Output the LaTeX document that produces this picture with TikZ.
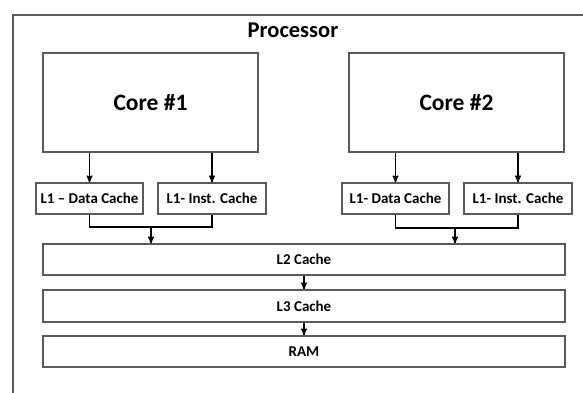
\documentclass[tikz,border=0pt]{standalone}
\usepackage{fontspec}
\setmainfont{Carlito}
\usetikzlibrary{shapes,arrows,backgrounds,positioning}
\definecolor{boxgray}{RGB}{90,90,90}
\tikzset{
  blocknode/.style = {align=center, inner sep=0pt, text centered,
    font=\bfseries, draw=boxgray, line width=1.3pt, fill=white},
  core_box/.style = {blocknode, minimum width=215pt, minimum height=99pt,
    font=\bfseries\fontsize{23.5}{26}\selectfont},% coeur
  l1_box/.style = {blocknode, minimum width=107pt, minimum height=31pt,
    font=\bfseries\fontsize{15}{17}\selectfont},% cache L1
  mem_box/.style = {blocknode, minimum width=522pt, minimum height=31pt,
    font=\bfseries\fontsize{15}{17}\selectfont},% L2, L3, RAM
  link/.style = {black, line width=1.4pt}
}

\begin{document}
\begin{tikzpicture}[x=1pt,y=-1pt,>=stealth']
        \useasboundingbox (0,0) rectangle (583,392);
        \path[clip] (0,0) rectangle (583,392);
        % cadre du processeur
        \draw[boxgray, line width=1.6pt] (13,400) -- (13,15) -- (600,15);
        \node [font=\bfseries\fontsize{22.5}{25}\selectfont] (proc) at (293,30) {Processor};

        \node [core_box] (core1) at (150.5,102.5) {Core \#1};
        \node [core_box] (core2) at (456.5,102.5) {Core \#2};

        \node [l1_box] (l1d1) at (89.5,198.5) {L1 -- Data Cache};
        \node [l1_box, minimum width=108pt] (l1i1) at (212,198.5) {L1- Inst. Cache};
        \node [l1_box] (l1d2) at (395.5,198.5) {L1- Data Cache};
        \node [l1_box, minimum width=108pt] (l1i2) at (518,198.5) {L1- Inst. Cache};

        \node [mem_box] (l2) at (304,259.5) {L2 Cache};
        \node [mem_box, minimum height=32pt] (l3) at (304,306) {L3 Cache};
        \node [mem_box] (ram) at (304,351.5) {RAM};

        \coordinate (join1) at (151,227);
        \coordinate (join2) at (455,228);

        \draw [link,->] (core1.south -| l1d1) -- (l1d1);
        \draw [link,->] (core1.south -| l1i1) -- (l1i1);
        \draw [link,->] (core2.south -| l1d2) -- (l1d2);
        \draw [link,->] (core2.south -| l1i2) -- (l1i2);

        \draw [link] (l1d1.south) |- (join1) -| (l1i1.south);
        \draw [link] (l1d2.south) |- (join2) -| (l1i2.south);
        \draw [link,->] (join1) -- (join1 |- l2.north);
        \draw [link,->] (join2) -- (join2 |- l2.north);

        \draw [link,->] (l2) -- (l3);
        \draw [link,->] (l3) -- (ram);
\end{tikzpicture}
\end{document}
